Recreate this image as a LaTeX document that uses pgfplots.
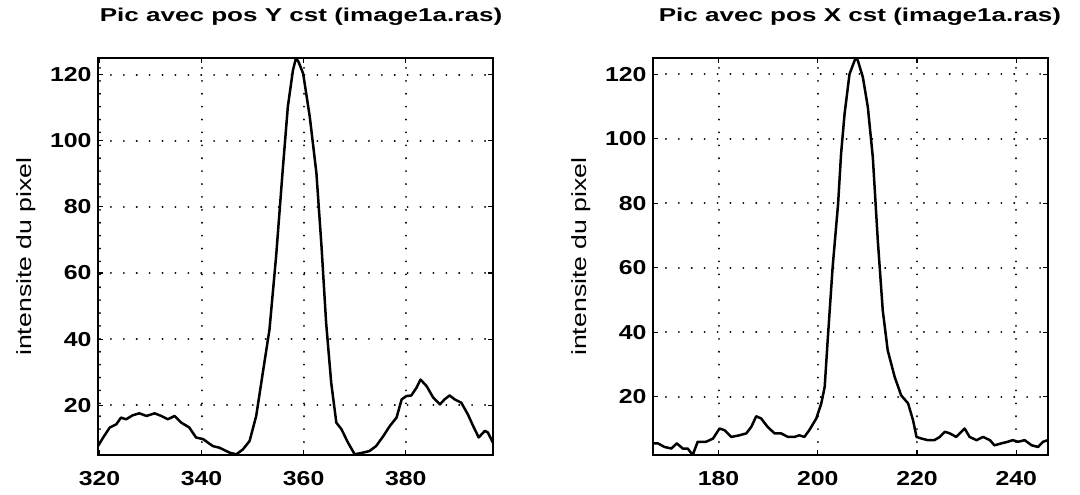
\documentclass[border=0pt]{standalone}
\usepackage{fontspec}
\setmainfont{Liberation Sans}[FakeStretch=1.3]
\newfontfamily\bfont{Liberation Sans Bold}[FakeStretch=1.23]
\newfontfamily\tfont{Liberation Sans Bold}[FakeStretch=1.4]
\usepackage{pgfplots}
\pgfplotsset{compat=1.18}
\pgfplotstableread{
x y
319.7 7.7
320.6 10
322.0 13.3
323.3 14.3
324.2 16.3
325.2 15.8
326.5 17
327.8 17.6
329.2 16.8
330.8 17.6
332.1 16.8
333.4 15.8
334.7 16.8
336.0 14.8
337.6 13.3
338.9 10.3
340.3 9.8
342.2 7.7
343.5 7.2
345.5 5.7
346.8 5.2
348.1 6.7
349.4 9.2
350.7 16.8
352.0 29.9
353.3 42.9
354.6 65
355.9 91.2
356.9 110.3
357.9 121.3
358.5 125
359.0 123.8
359.9 120.3
361.2 107.2
362.5 90.2
363.5 68
364.4 45
365.4 26.8
366.4 14.8
367.4 12.8
368.7 8.7
370.0 5.2
371.6 5.7
372.9 6.2
374.2 7.7
375.6 10.7
376.9 13.8
378.2 16.3
379.2 21.8
380.1 22.8
381.1 23
382.1 25.3
382.9 27.8
384.1 25.8
385.4 22.3
386.7 20.3
387.6 21.8
388.6 23
389.6 21.8
390.9 20.8
392.2 17.2
393.2 13.8
394.3 10.3
395.5 12.3
396.1 11.8
397.1 8.7
}\leftdata
\pgfplotstableread{
x y
166.8 5.6
167.8 5.6
169.1 4.5
170.5 4
171.6 5.6
172.8 4
173.8 4
174.8 2
175.8 6.1
177.5 6.1
178.9 7.1
180.2 10.2
181.2 9.7
182.6 7.6
184.2 8.1
185.6 8.7
186.6 10.7
187.6 14
188.6 13.3
189.9 10.7
191.3 8.7
192.6 8.7
194.0 7.6
195.3 7.6
196.3 8.1
197.3 7.6
198.3 9.7
199.7 13.3
200.7 17.9
201.4 23.1
202.0 37.5
203.0 60.2
204.1 79.8
204.7 95.3
205.4 107.6
206.4 120
207.4 124.1
207.7 125
208.1 124.1
209.1 119
210.1 109.7
211.1 94.2
212.1 68.5
213.1 46.8
214.1 34.4
215.5 26.2
216.8 20.5
218.2 18
219.2 12.8
219.9 7.6
220.9 7.1
222.2 6.6
223.5 6.6
224.6 7.6
225.6 9.2
226.6 8.7
227.9 7.6
229.6 10.2
230.6 7.6
232.0 6.6
233.3 7.6
234.7 6.6
235.6 5
237.0 5.6
238.3 6.1
239.3 6.6
240.4 6.1
241.7 6.6
243.1 5
244.4 4.5
245.4 6.1
246.4 6.6
}\rightdata
\begin{document}
\begin{tikzpicture}
\pgfplotsset{
 mystyle/.style={
  scale only axis, width=395pt, height=397pt,
  axis line style={line width=1.9pt},
  grid=major,
  major grid style={black, line width=2pt, line cap=round, dash pattern=on 0.1pt off 12.8pt},
  tick style={black, line width=1.2pt},
  major tick length=5pt,
  tick align=inside,
  ytick={20,40,60,80,100,120},
  tick label style={font=\bfont\fontsize{20.2}{20.2}\selectfont},
  /pgf/number format/assume math mode=true,
  /pgf/number format/1000 sep={},
  xticklabel shift=13pt,
  yticklabel shift=3pt,
  ylabel={intensite du pixel},
  ylabel style={font=\fontsize{20.5}{20.5}\selectfont, at={(axis description cs:-0.1823,0.5)}, anchor=center},
  title style={font=\tfont\fontsize{18.6}{18.6}\selectfont, anchor=base},
 }
}
\path[use as bounding box] (-98pt,-40pt) rectangle (982pt,455pt);
\begin{axis}[mystyle, at={(0pt,0pt)}, anchor=south west,
  xmin=319.7, xmax=397.1, ymin=5, ymax=125,
  xtick={320,340,360,380},
  title style={at={(axis description cs:0.514,1.078)}},
  title={Pic avec pos Y cst (image1a.ras)}]
\addplot[black, line width=2.5pt, line join=round, no markers] table[x=x,y=y] {\leftdata};
\end{axis}
\begin{axis}[mystyle, at={(555pt,0pt)}, anchor=south west,
  xmin=166.8, xmax=246.4, ymin=2, ymax=125,
  xtick={180,200,220,240},
  title style={at={(axis description cs:0.524,1.078)}},
  title={Pic avec pos X cst (image1a.ras)}]
\addplot[black, line width=2.5pt, line join=round, no markers] table[x=x,y=y] {\rightdata};
\end{axis}
\end{tikzpicture}
\end{document}
